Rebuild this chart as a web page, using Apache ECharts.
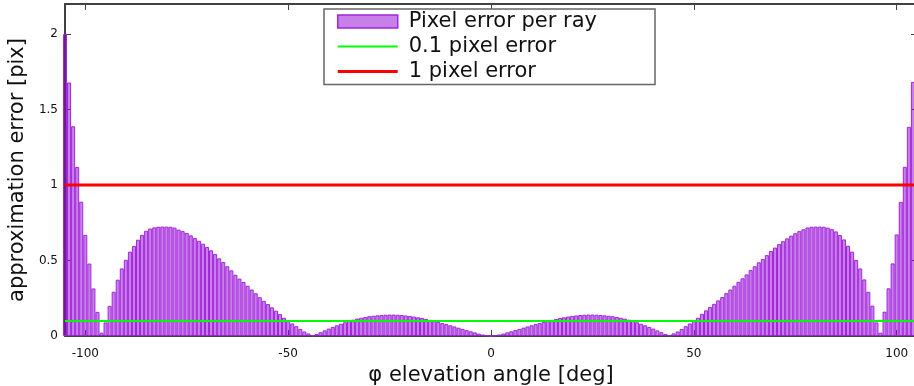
<!DOCTYPE html>
<html>
<head>
<meta charset="utf-8">
<script src="https://cdn.jsdelivr.net/npm/echarts@6/dist/echarts.min.js"></script>
<style>
  html, body { margin: 0; padding: 0; background: #ffffff; }
  #chart { width: 914px; height: 386px; }
</style>
</head>
<body>
<div id="chart"></div>
<script>
// Elevation angles are sampled every degree starting here
const angleStart = -105;
const angleStep = 1;

// Approximation error per ray [pix], one value per sampled angle (-105 .. 105)
const errorPerRay = [
  // -105 .. -96
  2.00, 1.68, 1.39, 1.12, 0.89, 0.67, 0.48, 0.315, 0.16, 0.022,
  // -95 .. -86
  0.09, 0.20, 0.293, 0.373, 0.448, 0.505, 0.559, 0.597, 0.638, 0.670,
  // -85 .. -76
  0.697, 0.712, 0.720, 0.724, 0.725, 0.725, 0.724, 0.718, 0.705, 0.695,
  // -75 .. -66
  0.683, 0.667, 0.649, 0.631, 0.612, 0.590, 0.568, 0.543, 0.515, 0.490,
  // -65 .. -56
  0.462, 0.435, 0.406, 0.380, 0.358, 0.333, 0.308, 0.283, 0.257, 0.233,
  // -55 .. -46
  0.212, 0.190, 0.168, 0.145, 0.121, 0.099, 0.083, 0.065, 0.047, 0.030,
  // -45 .. -36
  0.017, 0.004, 0.013, 0.025, 0.037, 0.049, 0.060, 0.071, 0.081, 0.091,
  // -35 .. -26
  0.100, 0.108, 0.115, 0.121, 0.126, 0.131, 0.134, 0.137, 0.139, 0.141,
  // -25 .. -16
  0.142, 0.142, 0.141, 0.139, 0.136, 0.133, 0.129, 0.124, 0.119, 0.113,
  // -15 .. -6
  0.107, 0.100, 0.093, 0.086, 0.079, 0.071, 0.063, 0.055, 0.047, 0.039,
  // -5 .. 4
  0.031, 0.024, 0.016, 0.010, 0.004, 0.000, 0.004, 0.010, 0.016, 0.024,
  // 5 .. 14
  0.031, 0.039, 0.047, 0.055, 0.063, 0.071, 0.079, 0.086, 0.093, 0.100,
  // 15 .. 24
  0.107, 0.113, 0.119, 0.124, 0.129, 0.133, 0.136, 0.139, 0.141, 0.142,
  // 25 .. 34
  0.142, 0.141, 0.139, 0.137, 0.134, 0.131, 0.126, 0.121, 0.115, 0.108,
  // 35 .. 44
  0.100, 0.091, 0.081, 0.071, 0.060, 0.049, 0.037, 0.025, 0.013, 0.004,
  // 45 .. 54
  0.017, 0.030, 0.047, 0.065, 0.083, 0.099, 0.121, 0.147, 0.170, 0.192,
  // 55 .. 64
  0.213, 0.236, 0.258, 0.284, 0.308, 0.333, 0.359, 0.382, 0.408, 0.437,
  // 65 .. 74
  0.462, 0.488, 0.510, 0.536, 0.563, 0.586, 0.609, 0.628, 0.647, 0.665,
  // 75 .. 84
  0.681, 0.695, 0.707, 0.719, 0.724, 0.725, 0.725, 0.724, 0.718, 0.708,
  // 85 .. 94
  0.693, 0.669, 0.640, 0.598, 0.559, 0.504, 0.448, 0.375, 0.293, 0.201,
  // 95 .. 104
  0.09, 0.022, 0.161, 0.316, 0.481, 0.673, 0.889, 1.121, 1.386, 1.684,
  // 105
  2.00
];

// Reference error levels [pix]
const fineLevel = 0.1;
const coarseLevel = 1;

// Axis ranges and tick positions
const xRange = [-105, 105];
const yRange = [0, 2.2];
const xTicks = [-100, -50, 0, 50, 100];
const yTicks = [0, 0.5, 1, 1.5, 2];

const seriesNames = ['Pixel error per ray', '0.1 pixel error', '1 pixel error'];

const barPoints = errorPerRay.map((v, i) => [angleStart + i * angleStep, v]);

const FONT = 'DejaVu Sans';
const TEXT = '#111111';
const FRAME = '#404040';
const BAR_FILL = 'rgba(148, 0, 211, 0.5)';
const BAR_EDGE = '#a226dc';
const GREEN = '#00ff00';
const RED = '#ff0000';

const chart = echarts.init(document.getElementById('chart'), null, { renderer: 'canvas' });

function frameAxis(extra) {
  return Object.assign({
    type: 'value',
    splitLine: { show: false },
    axisLine: { show: true, onZero: false, lineStyle: { color: FRAME, width: 2 } }
  }, extra);
}

function innerTicks(values) {
  return { show: true, inside: true, length: 6, customValues: values, lineStyle: { color: FRAME, width: 1 } };
}

chart.setOption({
  animation: false,
  backgroundColor: '#ffffff',
  textStyle: { fontFamily: FONT },
  grid: { left: 65, right: -3, top: 4, bottom: 50, containLabel: false, outerBoundsMode: 'none' },
  xAxis: [
    frameAxis({
      position: 'bottom',
      min: xRange[0], max: xRange[1],
      axisTick: innerTicks(xTicks),
      axisLabel: { customValues: xTicks, margin: 12, fontSize: 12, color: TEXT, fontFamily: FONT },
      name: 'φ elevation angle [deg]',
      nameLocation: 'middle',
      nameGap: 29,
      nameTextStyle: { fontSize: 21, color: TEXT, fontFamily: FONT }
    }),
    frameAxis({
      position: 'top',
      min: xRange[0], max: xRange[1],
      axisTick: innerTicks(xTicks),
      axisLabel: { show: false }
    })
  ],
  yAxis: [
    frameAxis({
      position: 'left',
      min: yRange[0], max: yRange[1],
      axisTick: innerTicks(yTicks),
      axisLabel: { customValues: yTicks, margin: 7, fontSize: 12, color: TEXT, fontFamily: FONT },
      name: 'approximation error [pix]',
      nameLocation: 'middle',
      nameGap: 36,
      nameTextStyle: { fontSize: 21, color: TEXT, fontFamily: FONT }
    }),
    frameAxis({
      position: 'right',
      min: yRange[0], max: yRange[1],
      axisTick: innerTicks(yTicks),
      axisLabel: { show: false }
    })
  ],
  legend: {
    orient: 'vertical',
    left: 324,
    top: 9,
    padding: [2, 58, 2.5, 13],
    itemGap: 4,
    itemWidth: 60,
    itemHeight: 13,
    backgroundColor: '#ffffff',
    borderColor: '#666666',
    borderWidth: 1.5,
    borderRadius: 0,
    selectedMode: false,
    textStyle: { fontSize: 21, color: TEXT, fontFamily: FONT, padding: [0, 0, 0, 6] },
    data: [
      { name: seriesNames[0], icon: 'rect', itemStyle: { color: BAR_FILL, borderColor: BAR_EDGE, borderWidth: 1.5 } },
      { name: seriesNames[1], icon: 'path://M0,0H60V2H0Z', itemStyle: { color: GREEN, borderWidth: 0 } },
      { name: seriesNames[2], icon: 'path://M0,0H60V3H0Z', itemStyle: { color: RED, borderWidth: 0 } }
    ]
  },
  series: [
    {
      name: seriesNames[0],
      type: 'bar',
      xAxisIndex: 0,
      yAxisIndex: 0,
      data: barPoints,
      barWidth: '100%',
      clip: true,
      itemStyle: { color: BAR_FILL, borderColor: BAR_EDGE, borderWidth: 1 },
      emphasis: { disabled: true }
    },
    {
      name: seriesNames[1],
      type: 'line',
      xAxisIndex: 0,
      yAxisIndex: 0,
      data: [[xRange[0], fineLevel], [xRange[1], fineLevel]],
      symbol: 'none',
      lineStyle: { color: GREEN, width: 2 },
      itemStyle: { color: GREEN },
      emphasis: { disabled: true }
    },
    {
      name: seriesNames[2],
      type: 'line',
      xAxisIndex: 0,
      yAxisIndex: 0,
      data: [[xRange[0], coarseLevel], [xRange[1], coarseLevel]],
      symbol: 'none',
      lineStyle: { color: RED, width: 3 },
      itemStyle: { color: RED },
      emphasis: { disabled: true }
    }
  ]
});
</script>
</body>
</html>
